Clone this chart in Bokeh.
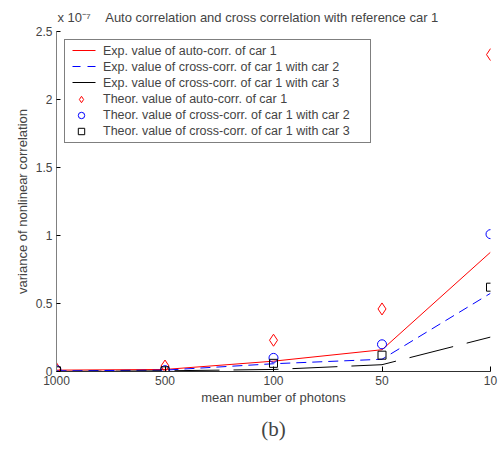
from bokeh.plotting import figure
from bokeh.models import Range1d, FixedTicker, Legend, LegendItem, Title
from bokeh.embed import file_html
from bokeh.resources import INLINE

# Data (values in units of 1e-7)
x_labels = ["1000", "500", "100", "50", "10"]
x_pos = [1, 2, 3, 4, 5]
exp_auto = [0.01, 0.015, 0.076, 0.16, 0.877]
exp_cross2 = [0.005, 0.01, 0.057, 0.09, 0.575]
exp_cross3 = [0.0, 0.005, 0.015, 0.05, 0.253]
theor_auto = [0.02, 0.04, 0.23, 0.46, 2.33]
theor_cross2 = [0.01, 0.01, 0.10, 0.20, 1.01]
theor_cross3 = [0.005, 0.005, 0.06, 0.12, 0.62]
y_ticks = [0, 0.5, 1, 1.5, 2, 2.5]
y_tick_labels = ["0", "0.5", "1", "1.5", "2", "2.5"]

exponent_text = "x 10\u207b\u2077"
title_text = "Auto correlation and cross correlation with reference car 1"
legend_labels = [
    "Exp. value of auto-corr. of car 1",
    "Exp. value of cross-corr. of car 1 with car 2",
    "Exp. value of cross-corr. of car 1 with car 3",
    "Theor. value of auto-corr. of car 1",
    "Theor. value of cross-corr. of car 1 with car 2",
    "Theor. value of cross-corr. of car 1 with car 3",
]

FONT = "Liberation Sans"

# layout constants (pixels)
W, H = 502, 450
FRAME_LEFT, FRAME_TOP, FRAME_W, FRAME_H = 56, 31, 434, 340
X0, X1 = 1, 5
Y0, Y1 = 0, 2.5
LEG_MARGIN, LEG_PAD, ROW_H = 8, 3, 16
SAMPLE_PX0, SAMPLE_PX1 = 72, 95

p = figure(width=W, height=H, output_backend="svg", toolbar_location=None,
           x_range=Range1d(X0, X1), y_range=Range1d(Y0, Y1),
           min_border_left=FRAME_LEFT, min_border_right=W - FRAME_LEFT - FRAME_W,
           min_border_top=FRAME_TOP, min_border_bottom=H - FRAME_TOP - FRAME_H)
p.outline_line_color = None
p.xgrid.visible = False
p.ygrid.visible = False
p.background_fill_color = "white"
p.border_fill_color = "white"

line_styles = [dict(line_color="#ff0000", line_dash="solid"),
               dict(line_color="#0000ff", line_dash="10 6"),
               dict(line_color="black", line_dash="45 14")]
sample_dash = ["solid", "8 7", "solid"]

p.line(x_pos, exp_auto, line_width=1, **line_styles[0])
p.line(x_pos, exp_cross2, line_width=1, **line_styles[1])
p.line(x_pos, exp_cross3, line_width=1, **line_styles[2])
r4 = p.scatter(x_pos, theor_auto, marker="diamond", size=12, fill_color=None,
               line_color="#ff0000", line_width=1)
r5 = p.scatter(x_pos, theor_cross2, marker="circle", size=9, fill_color=None,
               line_color="#0000ff", line_width=1)
r6 = p.scatter(x_pos, theor_cross3, marker="square", size=8, fill_color=None,
               line_color="black", line_width=1)

# label-only placeholders for the line entries; their sample lines are drawn below
ph = [p.line([], [], line_color=s["line_color"]) for s in line_styles]


def px_to_x(px):
    return X0 + (px - FRAME_LEFT) * (X1 - X0) / FRAME_W


def py_to_y(py):
    return Y1 - (py - FRAME_TOP) * (Y1 - Y0) / FRAME_H


for i, s in enumerate(line_styles):
    cy = py_to_y(FRAME_TOP + LEG_MARGIN + LEG_PAD + ROW_H * (i + 0.5))
    p.segment(x0=[px_to_x(SAMPLE_PX0)], y0=[cy], x1=[px_to_x(SAMPLE_PX1)], y1=[cy],
              line_color=s["line_color"], line_dash=sample_dash[i], line_width=1)

renderers = ph + [r4, r5, r6]
items = [LegendItem(label=lab, renderers=[r])
         for lab, r in zip(legend_labels, renderers)]
legend = Legend(items=items, location="top_left", margin=LEG_MARGIN, padding=LEG_PAD,
                spacing=0, label_height=ROW_H, glyph_height=ROW_H, glyph_width=26,
                label_standoff=9, label_width=264, border_line_color="black",
                border_line_width=1, label_text_font=FONT, label_text_font_size="12.5px",
                background_fill_alpha=0.0)
p.add_layout(legend, "center")

# axes
xa = p.xaxis[0]
xa.ticker = FixedTicker(ticks=x_pos)
xa.major_label_overrides = {x: l for x, l in zip(x_pos, x_labels)}
xa.minor_tick_line_color = None
xa.major_tick_in = 5
xa.major_tick_out = 0
xa.major_label_standoff = 4
xa.axis_line_color = "#303030"
xa.major_label_text_font = FONT
xa.major_label_text_font_size = "12px"
xa.axis_label = "mean number of photons"
xa.axis_label_text_font = FONT
xa.axis_label_text_font_size = "13px"
xa.axis_label_text_font_style = "normal"
xa.axis_label_standoff = 2

ya = p.yaxis[0]
ya.ticker = FixedTicker(ticks=y_ticks)
ya.major_label_overrides = {t: l for t, l in zip(y_ticks, y_tick_labels)}
ya.minor_tick_line_color = None
ya.major_tick_in = 4
ya.major_tick_out = 0
ya.major_label_standoff = 4
ya.axis_line_color = "#808080"
ya.major_label_text_font = FONT
ya.major_label_text_font_size = "12px"
ya.axis_label = "variance of nonlinear correlation"
ya.axis_label_text_font = FONT
ya.axis_label_text_font_size = "13px"
ya.axis_label_text_font_style = "normal"
ya.axis_label_standoff = 3

# title (with the exponent of the y axis at its left)
p.title.text = exponent_text + "\u00a0" * 4 + title_text
p.title.align = "left"
p.title.offset = 1
p.title.text_font = FONT
p.title.text_font_size = "13px"
p.title.text_font_style = "normal"
p.title.standoff = 14

# caption below
cap = Title(text="(b)", align="center", text_font="Liberation Serif",
            text_font_size="21px", text_font_style="normal", standoff=15)
p.add_layout(cap, "below")

open("out.html", "w").write(file_html(p, INLINE))
